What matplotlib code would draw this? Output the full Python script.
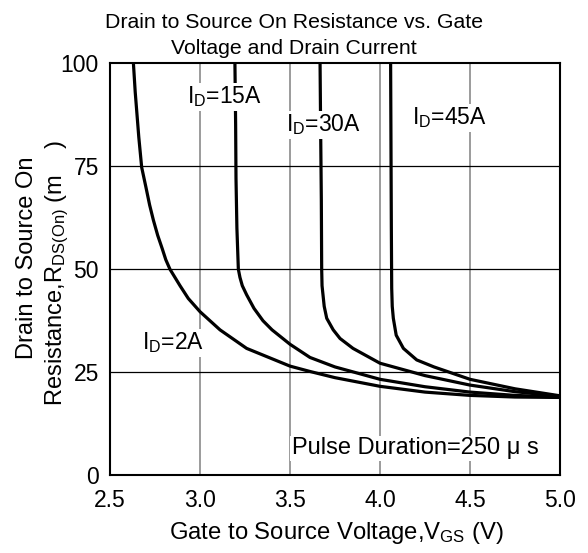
import matplotlib
matplotlib.use("Agg")
import matplotlib.pyplot as plt

plt.rcParams['font.family'] = ['Liberation Sans', 'DejaVu Sans']
plt.rcParams['mathtext.fontset'] = 'custom'
plt.rcParams['mathtext.rm'] = 'Liberation Sans'
plt.rcParams['mathtext.it'] = 'Liberation Sans:italic'
plt.rcParams['mathtext.bf'] = 'Liberation Sans:bold'

# ---- data ----
v_2a = [2.630, 2.640, 2.648, 2.660, 2.676, 2.700, 2.720, 2.741, 2.765, 2.790, 2.810, 2.833, 2.889,
        2.935, 3.0, 3.111, 3.259, 3.5, 3.611, 3.75, 4.0, 4.25, 4.5, 4.75, 5.0]
r_2a = [100, 93, 88.6, 82, 74.7, 69.8, 65.6, 61.9, 58.2, 55, 52.3, 50, 46,
        42.9, 39.7, 35.3, 30.8, 26.5, 25.2, 23.7, 21.6, 20.2, 19.4, 19.0, 18.9]

v_15a = [3.194, 3.198, 3.200, 3.205, 3.213, 3.222, 3.235, 3.259, 3.30, 3.35, 3.40, 3.5, 3.611,
         3.75, 4.0, 4.25, 4.5, 4.75, 5.0]
r_15a = [100, 85, 72, 60, 50, 48, 46, 43.8, 40.5, 37.5, 35.3, 31.8, 28.6,
         26.3, 23.3, 21.5, 20.2, 19.4, 19.0]

v_30a = [3.667, 3.670, 3.674, 3.676, 3.678, 3.690, 3.704, 3.740, 3.778, 3.85, 4.0, 4.25, 4.5, 4.75, 5.0]
r_30a = [100, 85, 67, 50, 46, 41, 38.1, 35.3, 33.2, 30.8, 27.2, 24.2, 21.9, 20.3, 19.2]

v_45a = [4.059, 4.061, 4.063, 4.065, 4.068, 4.074, 4.090, 4.130, 4.204, 4.30, 4.5, 4.75, 5.0]
r_45a = [100, 80, 60, 45.4, 41, 38.1, 34, 30.8, 28, 26.3, 23.3, 21, 19.3]

x_ticks = [2.5, 3.0, 3.5, 4.0, 4.5, 5.0]
x_tick_labels = ["2.5", "3.0", "3.5", "4.0", "4.5", "5.0"]
y_ticks = [0, 25, 50, 75, 100]
y_tick_labels = ["0", "25", "50", "75", "100"]

curve_labels = [r"I$_\mathrm{D}$=2A", r"I$_\mathrm{D}$=15A", r"I$_\mathrm{D}$=30A", r"I$_\mathrm{D}$=45A"]

fig = plt.figure(figsize=(5.88, 5.53), dpi=100)
ax = fig.add_axes([110/588, 1 - 475.4/553, 450/588, 412.4/553])

ax.set_xlim(2.5, 5.0)
ax.set_ylim(0, 100)

# grid
for xv in x_ticks[1:-1]:
    ax.axvline(xv, color='#808080', lw=1.1, zorder=1)
for yv in y_ticks[1:-1]:
    ax.axhline(yv, color='black', lw=0.9, zorder=1)

for v, r in [(v_2a, r_2a), (v_15a, r_15a), (v_30a, r_30a), (v_45a, r_45a)]:
    ax.plot(v, r, color='black', lw=2.3, zorder=3, solid_capstyle='butt', solid_joinstyle='round')

ax.set_xticks(x_ticks)
ax.set_xticklabels(x_tick_labels)
ax.set_yticks(y_ticks)
ax.set_yticklabels(y_tick_labels)
ax.tick_params(length=0, labelsize=16.5, pad=8)
ax.tick_params(axis='x', pad=10)
for s in ax.spines.values():
    s.set_linewidth(1.5)
    s.set_zorder(6)

bb = dict(facecolor='white', edgecolor='none', pad=1)
fs_lab = 16.5
ax.text(2.676, 32.1, curve_labels[0], fontsize=fs_lab, va='center', ha='left', bbox=bb, zorder=5)
ax.text(2.926, 91.8, curve_labels[1], fontsize=fs_lab, va='center', ha='left', bbox=bb, zorder=5)
ax.text(3.48, 85.0, curve_labels[2], fontsize=fs_lab, va='center', ha='left', bbox=bb, zorder=5)
ax.text(4.18, 86.7, curve_labels[3], fontsize=fs_lab, va='center', ha='left', bbox=bb, zorder=5)
ax.text(3.509, 6.6, "Pulse Duration=250 \u03bc s", fontsize=17, va='center', ha='left', bbox=bb, zorder=5)

fig.text(0.5, 1 - 22/553, "Drain to Source On Resistance vs. Gate", fontsize=15.3, ha='center', va='center')
fig.text(0.5, 1 - 48/553, "Voltage and Drain Current", fontsize=15.3, ha='center', va='center')

fig.text(27/588, 1 - 258/553, "Drain to Source On", fontsize=17, rotation=90, ha='center', va='center')
fig.text(57/588, 1 - 273/553, r"Resistance,R$_\mathrm{DS(On)}$ (m    )", fontsize=17, rotation=90, ha='center', va='center')

fig.text(336.7/588, 1 - 533/553, r"Gate to Source Voltage,V$_\mathrm{GS}$ (V)", fontsize=17.2, ha='center', va='center')

fig.savefig("out.png", dpi=100)
